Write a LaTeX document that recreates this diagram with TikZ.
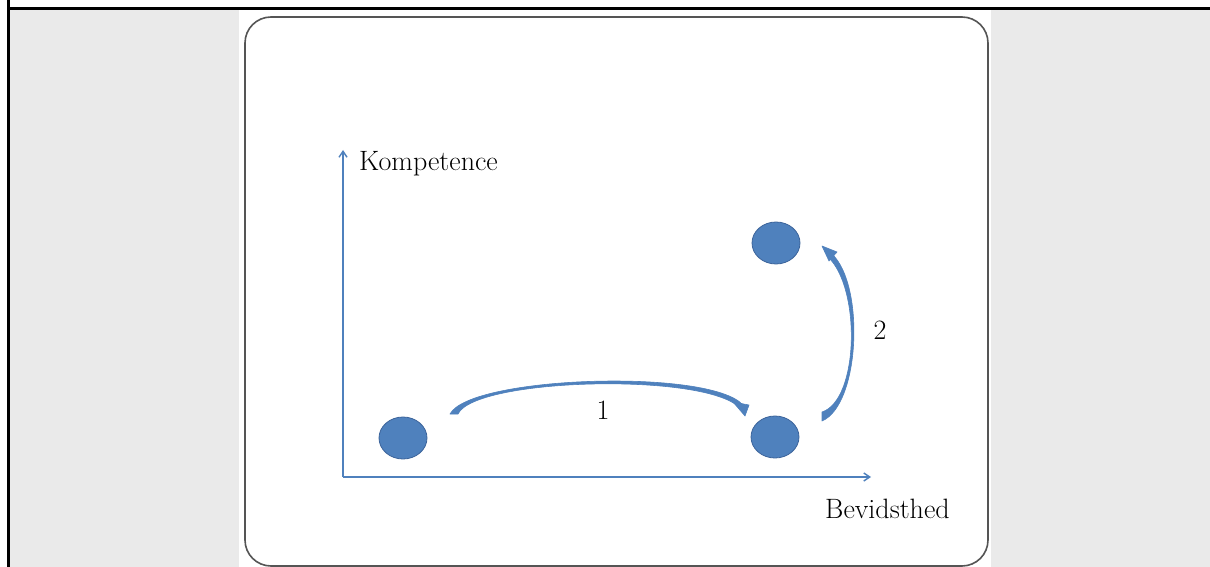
\documentclass[tikz,border=0pt]{standalone}
\usetikzlibrary{arrows.meta,shapes.geometric}
\definecolor{axisblue}{RGB}{79,129,189}
\definecolor{dotblue}{RGB}{79,129,189}
\definecolor{dotedge}{RGB}{60,100,155}
\definecolor{panelgray}{RGB}{234,234,234}
\definecolor{framegray}{RGB}{85,85,85}
\tikzset{
  axis/.style={draw=axisblue, line width=1.8pt, -{Straight Barb[length=6pt,width=8pt,line width=1.4pt]}},
  dot/.style={ellipse, minimum width=48pt, minimum height=42pt, fill=dotblue, draw=dotedge, line width=0.8pt, inner sep=0pt},
  lbl/.style={font=\fontsize{28}{30}\selectfont, text=black, inner sep=0pt},
  arrowbody/.style={fill=axisblue, draw=axisblue, line width=0.6pt, line join=round},
}
\begin{document}
\begin{tikzpicture}[x=1pt,y=-1pt]
\useasboundingbox (0,0) rectangle (1210,567);
\fill[white] (0,0) rectangle (1210,567);
% gray side panels
\fill[panelgray] (10,10) rectangle (239,567);
\fill[panelgray] (991,10) rectangle (1210,567);
% black table rules
\fill[black] (7,0) rectangle (10,567);
\fill[black] (7,7) rectangle (1210,10);
% rounded frame
\draw[framegray, line width=1.6pt, rounded corners=26pt] (245,17) rectangle (988,566);
% axes
\coordinate (O) at (343,477);
\coordinate (Ytop) at (343,150);
\coordinate (Xend) at (871,477);
\draw[axis] (O) -- (Ytop);
\draw[axis] (O) -- (Xend);
\node[lbl, anchor=base west] (komp) at (359,170) {Kompetence};
\node[lbl, anchor=base west] (bev) at (825,518) {Bevidsthed};
% dots
\node[dot] (d1) at (403,438) {};
\node[dot] (d2) at (775,437) {};
\node[dot] (d3) at (776,243) {};
% arrow 1
\coordinate (a1s) at (450,414);
\coordinate (a1e) at (743,405);
\fill[arrowbody] (a1s) .. controls (470,376) and (710,368) .. (a1e)
   -- (740,408) .. controls (705,372) and (475,378) .. (458,414) -- cycle;
\fill[arrowbody] (733,402) -- (749,405) -- (745,416) -- cycle;
\node[lbl] (one) at (603,410) {1};
% arrow 2
\coordinate (a2s) at (822,421);
\coordinate (a2e) at (832,254);
\fill[arrowbody] (a2s) .. controls (860,405) and (865,285) .. (a2e)
   -- (828,257) .. controls (861,288) and (859,400) .. (822,412) -- cycle;
\fill[arrowbody] (822,246) -- (837,252) -- (829,261) -- cycle;
\node[lbl] (two) at (880,330) {2};
\end{tikzpicture}
\end{document}
